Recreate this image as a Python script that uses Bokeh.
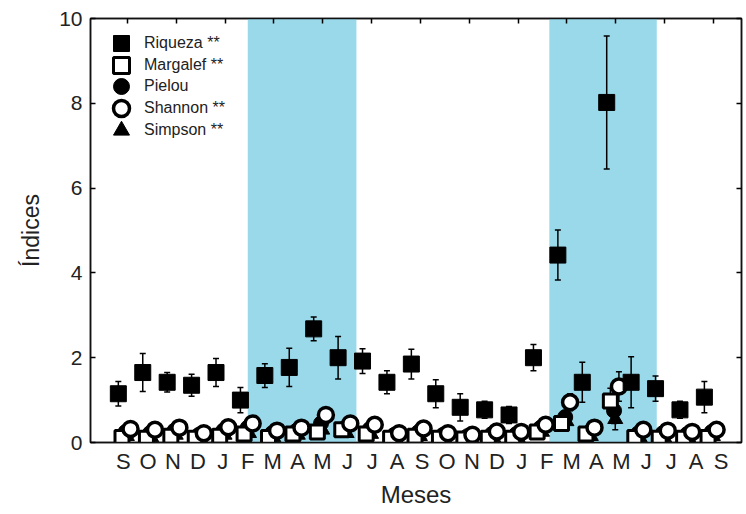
from bokeh.plotting import figure
from bokeh.models import (ColumnDataSource, FixedTicker, LinearAxis, BoxAnnotation,
                          Legend, LegendItem, Range1d, Whisker, TeeHead)
from bokeh.embed import file_html
from bokeh.resources import INLINE

# ---- data ----
months = ["S", "O", "N", "D", "J", "F", "M", "A", "M", "J", "J", "A",
          "S", "O", "N", "D", "J", "F", "M", "A", "M", "J", "J", "A", "S"]
riqueza = [1.15, 1.65, 1.42, 1.35, 1.65, 1.00, 1.58, 1.77, 2.68, 2.00, 1.92, 1.42,
           1.85, 1.15, 0.83, 0.77, 0.65, 2.00, 4.42, 1.42, 8.02, 1.42, 1.27, 0.77, 1.07]
riqueza_err = [0.29, 0.45, 0.23, 0.26, 0.33, 0.30, 0.28, 0.45, 0.28, 0.50, 0.29, 0.27,
               0.35, 0.33, 0.32, 0.20, 0.20, 0.31, 0.59, 0.47, 1.57, 0.60, 0.30, 0.20, 0.37]
margalef = [0.12, 0.10, 0.15, 0.10, 0.15, 0.20, 0.12, 0.20, 0.25, 0.30, 0.20, 0.10,
            0.15, 0.10, 0.08, 0.10, 0.10, 0.25, 0.45, 0.20, 0.98, 0.12, 0.10, 0.10, 0.12]
margalef_err = [0.05, 0.05, 0.05, 0.04, 0.05, 0.06, 0.05, 0.06, 0.08, 0.08, 0.06, 0.04,
                0.05, 0.04, 0.04, 0.04, 0.04, 0.08, 0.15, 0.08, 0.30, 0.05, 0.04, 0.04, 0.05]
pielou = [0.25, 0.22, 0.28, 0.18, 0.28, 0.35, 0.22, 0.28, 0.45, 0.35, 0.32, 0.18,
          0.25, 0.18, 0.15, 0.20, 0.20, 0.35, 0.60, 0.25, 0.75, 0.22, 0.22, 0.20, 0.25]
pielou_err = [0.05, 0.05, 0.05, 0.04, 0.05, 0.06, 0.05, 0.06, 0.08, 0.06, 0.06, 0.04,
              0.05, 0.04, 0.04, 0.04, 0.04, 0.08, 0.15, 0.06, 0.30, 0.05, 0.04, 0.04, 0.05]
shannon = [0.32, 0.30, 0.35, 0.22, 0.36, 0.45, 0.28, 0.35, 0.65, 0.45, 0.42, 0.22,
           0.33, 0.22, 0.18, 0.26, 0.25, 0.42, 0.95, 0.35, 1.32, 0.30, 0.28, 0.25, 0.30]
shannon_err = [0.06, 0.06, 0.06, 0.05, 0.06, 0.07, 0.06, 0.07, 0.10, 0.08, 0.07, 0.05,
               0.06, 0.05, 0.05, 0.05, 0.05, 0.08, 0.20, 0.07, 0.35, 0.06, 0.05, 0.05, 0.06]
simpson = [0.15, 0.12, 0.18, 0.10, 0.18, 0.22, 0.12, 0.18, 0.30, 0.22, 0.20, 0.10,
           0.15, 0.10, 0.08, 0.12, 0.12, 0.25, 0.50, 0.15, 0.55, 0.12, 0.12, 0.10, 0.15]
simpson_err = [0.04, 0.04, 0.04, 0.03, 0.04, 0.05, 0.04, 0.05, 0.06, 0.05, 0.05, 0.03,
               0.04, 0.03, 0.03, 0.03, 0.03, 0.06, 0.12, 0.05, 0.25, 0.04, 0.03, 0.03, 0.04]
# shaded periods (in month-index units)
bands = [(5.3, 9.75), (17.65, 22.05)]
y_ticks = [0, 2, 4, 6, 8, 10]
legend_labels = ["Riqueza **", "Margalef **", "Pielou", "Shannon **", "Simpson **"]

series_offset = {"riqueza": 0.0, "margalef": 0.15, "pielou": 0.3, "shannon": 0.5, "simpson": 0.35}

idx = list(range(len(months)))

p = figure(width=744, height=512, output_backend="svg", toolbar_location=None,
           x_range=Range1d(-1.14, 25.52), y_range=Range1d(0, 10),
           min_border_left=90, min_border_right=3, min_border_top=18, min_border_bottom=70)
p.xgrid.visible = False
p.ygrid.visible = False
p.outline_line_color = "#111111"
p.outline_line_width = 1.5
p.background_fill_color = "white"

for (b0, b1) in bands:
    p.add_layout(BoxAnnotation(left=b0, right=b1, fill_color="#99D9EA", fill_alpha=1.0,
                               line_alpha=0, level="underlay"))


def make_source(vals, errs, key):
    xs = [i + series_offset[key] for i in idx]
    return ColumnDataSource(dict(x=xs, y=vals,
                                 upper=[v + e for v, e in zip(vals, errs)],
                                 lower=[max(v - e, 0) for v, e in zip(vals, errs)]))


def add_whisker(src):
    w = Whisker(base="x", upper="upper", lower="lower", source=src,
                line_color="black", line_width=1.5, level="underlay",
                upper_head=TeeHead(size=6, line_width=1.5, line_color="black"),
                lower_head=TeeHead(size=6, line_width=1.5, line_color="black"))
    p.add_layout(w)


s_sim = make_source(simpson, simpson_err, "simpson")
s_pie = make_source(pielou, pielou_err, "pielou")
s_mar = make_source(margalef, margalef_err, "margalef")
s_sha = make_source(shannon, shannon_err, "shannon")
s_riq = make_source(riqueza, riqueza_err, "riqueza")
for s in (s_sim, s_pie, s_mar, s_sha, s_riq):
    add_whisker(s)

r_sim = p.scatter("x", "y", source=s_sim, marker="triangle", size=15,
                  fill_color="black", line_color="black")
r_pie = p.scatter("x", "y", source=s_pie, marker="circle", size=15,
                  fill_color="black", line_color="black")
r_mar = p.scatter("x", "y", source=s_mar, marker="square", size=14,
                  fill_color="white", line_color="black", line_width=3)
r_sha = p.scatter("x", "y", source=s_sha, marker="circle", size=15,
                  fill_color="white", line_color="black", line_width=3.5)
r_riq = p.scatter("x", "y", source=s_riq, marker="square", size=16,
                  fill_color="black", line_color="black")

FONT = "Liberation Sans"
TXT = "#222222"

# bottom axis: month letters
lab_pos = [round(0.2 + 1.02 * k, 3) for k in idx]
xa = p.xaxis[0]
xa.ticker = FixedTicker(ticks=lab_pos)
xa.major_label_overrides = {pos: m for pos, m in zip(lab_pos, months)}
xa.major_tick_in = 0
xa.major_tick_out = 0
xa.minor_tick_line_color = None
xa.axis_line_color = "#111111"
xa.axis_line_width = 1.5
xa.major_label_text_font = FONT
xa.major_label_text_font_size = "22px"
xa.major_label_text_color = TXT
xa.major_label_standoff = 6
xa.axis_label = "Meses"
xa.axis_label_text_font = FONT
xa.axis_label_text_font_size = "24px"
xa.axis_label_text_font_style = "normal"
xa.axis_label_text_color = TXT
xa.axis_label_standoff = 4

ya = p.yaxis[0]
ya.ticker = FixedTicker(ticks=y_ticks)
ya.major_tick_in = 5
ya.major_tick_out = 0
ya.minor_tick_line_color = None
ya.axis_line_color = "#111111"
ya.axis_line_width = 1.5
ya.major_tick_line_width = 1.5
ya.major_label_text_font = FONT
ya.major_label_text_font_size = "21px"
ya.major_label_text_color = TXT
ya.major_label_standoff = 8
ya.axis_label = "Índices"
ya.axis_label_text_font = FONT
ya.axis_label_text_font_size = "23px"
ya.axis_label_text_font_style = "normal"
ya.axis_label_text_color = TXT
ya.axis_label_standoff = 12

top_ticks = [round(0.37 + 2 * k, 3) for k in range(13)]
for loc, tk in (("above", top_ticks), ("right", y_ticks)):
    ax = LinearAxis(ticker=FixedTicker(ticks=tk), major_tick_in=5, major_tick_out=0,
                    minor_tick_line_color=None, major_label_text_font_size="1px",
                    major_label_text_color=None, major_label_text_alpha=0,
                    major_label_standoff=0, axis_line_color="#111111", axis_line_width=1.5,
                    major_tick_line_width=1.5)
    p.add_layout(ax, loc)

# legend: one legend per entry so that the swatches can be large while rows stay tight
renderers = [r_riq, r_mar, r_pie, r_sha, r_sim]
for i, (lab, r) in enumerate(zip(legend_labels, renderers)):
    lg = Legend(items=[LegendItem(label=lab, renderers=[r])],
                location=(11, 379 - 21.7 * i), margin=0, padding=0,
                glyph_width=40, glyph_height=40, label_standoff=3,
                label_text_font=FONT, label_text_font_size="16px",
                label_text_color=TXT, border_line_alpha=0, background_fill_alpha=0)
    p.add_layout(lg)

open("out.html", "w").write(file_html(p, INLINE))
